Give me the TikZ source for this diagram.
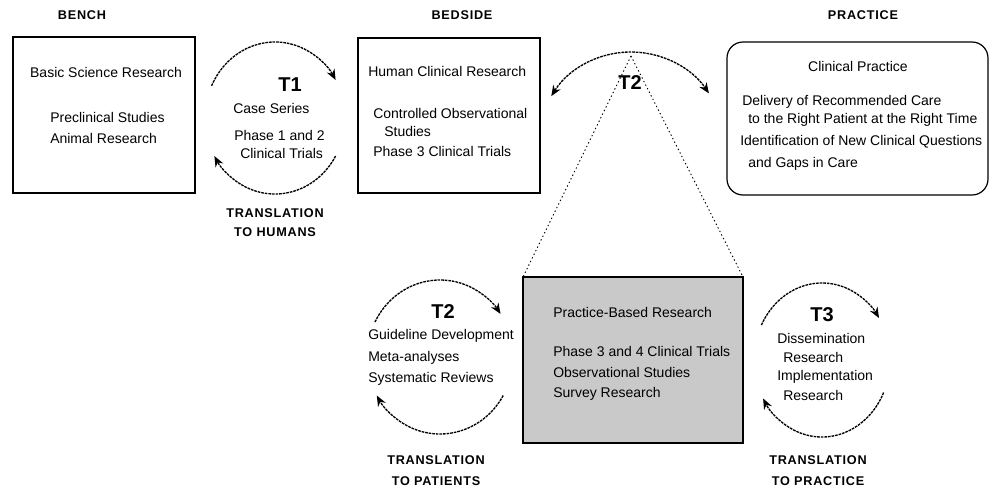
\documentclass[tikz,border=0pt]{standalone}
\usepackage{fontspec}
\setmainfont{Liberation Sans}
\newfontfamily\labfont[LetterSpace=6]{Liberation Sans}
\usetikzlibrary{arrows.meta,fit,calc}
\begin{document}
\begin{tikzpicture}[x=0.75pt,y=-0.75pt,
  txt/.style={font=\fontsize{10.5}{12}\selectfont, inner sep=0pt},
  lft/.style={txt, anchor=west},
  lab/.style={font=\labfont\bfseries\fontsize{9.5}{11}\selectfont, inner sep=0pt},
  tlab/.style={font=\bfseries\fontsize{15}{17}\selectfont, inner sep=0pt},
  frame/.style={draw, line width=0.9pt, inner sep=0pt},
  cyc/.style={line width=1pt, dash pattern=on 2pt off 0.7pt, -{Stealth[length=8pt,width=6.5pt]}},
  cyc2/.style={line width=1pt, dash pattern=on 2pt off 0.7pt, {Stealth[length=8pt,width=6.5pt]}-{Stealth[length=8pt,width=6.5pt]}},
  guide/.style={line width=0.7pt, dash pattern=on 1pt off 2pt}]
\useasboundingbox (0,0) rectangle (989,493);

% headings
\node[lab] (hbench) at (82,15) {BENCH};
\node[lab] (hbed) at (462,15) {BEDSIDE};
\node[lab] (hprac) at (863,15) {PRACTICE};

% boxes
\node[frame, fit={(13,37) (195,193)}] (b1) {};
\node[frame, fit={(358,38) (540,193)}] (b2) {};
\node[frame, rounded corners=12pt, fit={(727,42) (988,195)}] (b3) {};

% T2 apex guide lines
\coordinate (apex) at (631,56);
\coordinate (b4nw) at (523,277);
\coordinate (b4ne) at (743,277);
\draw[guide] (apex) -- (b4nw);
\draw[guide] (apex) -- (b4ne);
\node[frame, fill=gray!42, fit={(523,277) (743,443)}] (b4) {};

% box 1 text
\node[txt] (t1a) at (106,72) {Basic Science Research};
\node[lft] (t1b) at (50,117) {Preclinical Studies};
\node[lft] (t1c) at (50,138) {Animal Research};

% T1 cycle
\coordinate (c1) at (275,118);
\draw[cyc] ($(c1)+(205:70 and 76)$) arc[start angle=205, end angle=330, x radius=70, y radius=76];
\draw[cyc] ($(c1)+(30:70 and 76)$) arc[start angle=30, end angle=150, x radius=70, y radius=76];
\node[tlab] (T1) at (290,85) {T1};
\node[lft] (k1) at (233,108) {Case Series};
\node[lft] (k2) at (234,135) {Phase 1 and 2};
\node[lft] (k3) at (240,153) {Clinical Trials};
\node[lab] (tr1a) at (275,213) {TRANSLATION};
\node[lab] (tr1b) at (275,232) {TO HUMANS};

% box 2 text
\node[lft] (h1) at (368,71) {Human Clinical Research};
\node[lft] (h2) at (373,113) {Controlled Observational};
\node[lft] (h3) at (384,131) {Studies};
\node[lft] (h4) at (373,151) {Phase 3 Clinical Trials};

% T2 upper arc
\coordinate (c2) at (631,146);
\draw[cyc2] ($(c2)+(212:94)$) arc[start angle=212, end angle=326, radius=94];
\node[tlab] (T2a) at (630,83) {T2};

% box 3 text
\node[txt] (p1) at (858,66) {Clinical Practice};
\node[lft] (p2) at (742,102) {Delivery of Recommended Care};
\node[lft] (p3) at (748,120) {to the Right Patient at the Right Time};
\node[lft] (p4) at (740,142) {Identification of New Clinical Questions};
\node[lft] (p5) at (748,164) {and Gaps in Care};

% lower T2 cycle
\coordinate (c3) at (440,357);
\draw[cyc] ($(c3)+(207:73 and 77)$) arc[start angle=207, end angle=326, x radius=73, y radius=77];
\draw[cyc] ($(c3)+(30:73 and 77)$) arc[start angle=30, end angle=150, x radius=73, y radius=77];
\node[tlab] (T2b) at (443,312) {T2};
\node[lft] (g1) at (368,336) {Guideline Development};
\node[lft] (g2) at (368,358) {Meta-analyses};
\node[lft] (g3) at (368,379) {Systematic Reviews};
\node[lab] (tr2a) at (436,460) {TRANSLATION};
\node[lab] (tr2b) at (436,481) {TO PATIENTS};

% box 4 text
\node[lft] (r1) at (553,312) {Practice-Based Research};
\node[lft] (r2) at (553,351) {Phase 3 and 4 Clinical Trials};
\node[lft] (r3) at (553,372) {Observational Studies};
\node[lft] (r4) at (553,394) {Survey Research};

% T3 cycle
\coordinate (c4) at (822,360);
\draw[cyc] ($(c4)+(207:68 and 77)$) arc[start angle=207, end angle=327, x radius=68, y radius=77];
\draw[cyc] ($(c4)+(25:68 and 77)$) arc[start angle=25, end angle=150, x radius=68, y radius=77];
\node[tlab] (T3) at (822,315) {T3};
\node[lft] (d1) at (777,338) {Dissemination};
\node[lft] (d2) at (783,357) {Research};
\node[lft] (d3) at (777,377) {Implementation};
\node[lft] (d4) at (783,395) {Research};
\node[lab] (tr3a) at (818,460) {TRANSLATION};
\node[lab] (tr3b) at (818,481) {TO PRACTICE};
\end{tikzpicture}
\end{document}
